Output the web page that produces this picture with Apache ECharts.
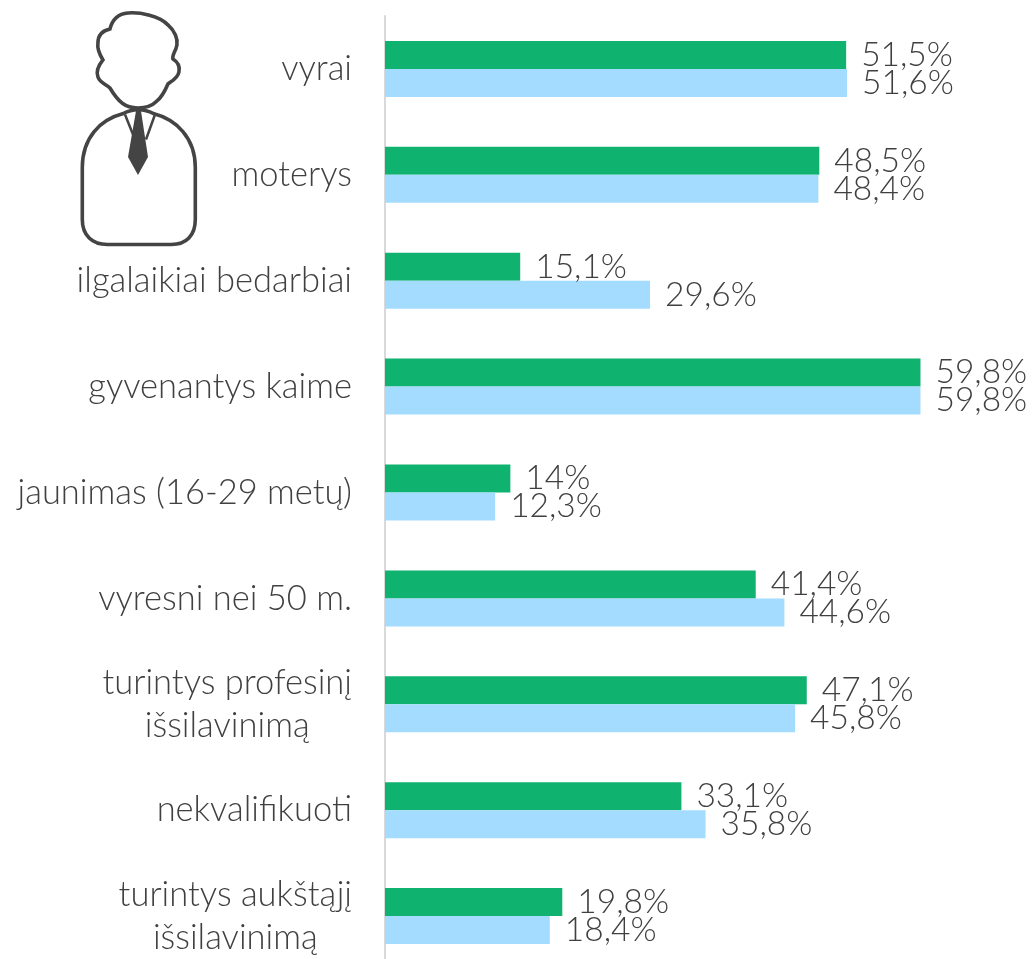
<!DOCTYPE html>
<html><head><meta charset="utf-8"><style>html,body{margin:0;background:#fff}#c{width:1036px;height:959px}</style>
<script src="https://cdn.jsdelivr.net/npm/echarts@6/dist/echarts.min.js"></script></head><body><div id="c"></div><script>
const categories=['vyrai','moterys','ilgalaikiai bedarbiai','gyvenantys kaime','jaunimas (16-29 metų)','vyresni nei 50 m.','turintys profesinį\nišsilavinimą','nekvalifikuoti','turintys aukštąjį\nišsilavinimą'];
const greenValues=[51.5,48.5,15.1,59.8,14,41.4,47.1,33.1,19.8];
const blueValues=[51.6,48.4,29.6,59.8,12.3,44.6,45.8,35.8,18.4];
const font='Lato, "Noto Sans", sans-serif';
const label={show:true,position:'right',distance:15,color:'#404040',fontSize:33.5,fontFamily:font,fontWeight:300,formatter:p=>String(p.value).replace('.',',')+'%'};
const headPath='M138 107 C131 107 126 105 122 102 C116 97 113 92 110 87 C106 83 100 82 98 76 C96 71 99 64 103 59 C100 54 97 48 98 42 C98 35 101 30 110 28 C112 20 117 13 128 12 C140 11 160 15 168 24 C175 30 178 38 177 44 C176 50 172 54 173 58 C178 61 180 66 179 71 C178 77 172 80 168 83 C165 90 162 96 157 100 C152 105 146 107 138 107 Z';
const bodyPath='M123 112 C100 118 82 136 82 166 L82 218 C82 234 92 243 107 243 L171 243 C186 243 195 234 195 218 L195 166 C195 136 176 118 153 112 C144 107 132 107 123 112 Z';
const collarPath='M123 112 L133 137 M153 112 L144 137';
const tiePath='M136 111 L141 111 L148 157 L138 175 L128 157 Z';
[['personHead',headPath],['personBody',bodyPath],['personCollar',collarPath],['personTie',tiePath]].forEach(([n,d])=>echarts.graphic.registerShape(n,echarts.graphic.extendPath(d,{})));
const chart=echarts.init(document.getElementById('c'));
chart.setOption({animation:false,
grid:{left:385,top:16,width:651,height:953,containLabel:false,outerBoundsMode:'none'},
xAxis:{type:'value',min:0,max:72.7,show:false},
yAxis:{type:'category',inverse:true,data:categories,offset:1.5,axisTick:{show:false},axisLine:{lineStyle:{color:'#d9d9d9',width:2}},
axisLabel:{margin:31.5,align:'right',interval:0,
formatter:v=>v.split('\n').map(s=>'{c|'+s+'}').join('\n'),
rich:{c:{color:'#404040',fontSize:34.5,fontFamily:font,fontWeight:300,lineHeight:43,align:'center'}}}},
series:[
{type:'bar',data:greenValues,barWidth:28,barGap:'0%',itemStyle:{color:'#0fb26e'},label},
{type:'bar',data:blueValues,barWidth:28,itemStyle:{color:'#a4dcff'},label}],
graphic:[
{type:'personBody',left:80.5,top:108,style:{fill:'#fff',stroke:'#444',lineWidth:3.6}},
{type:'personHead',left:95.5,top:11,style:{fill:'#fff',stroke:'#444',lineWidth:3.6}},
{type:'personCollar',left:122.5,top:112,style:{fill:'none',stroke:'#444',lineWidth:2.5}},
{type:'personTie',left:128,top:111,style:{fill:'#444',stroke:'none'}}
]});
</script></body></html>
